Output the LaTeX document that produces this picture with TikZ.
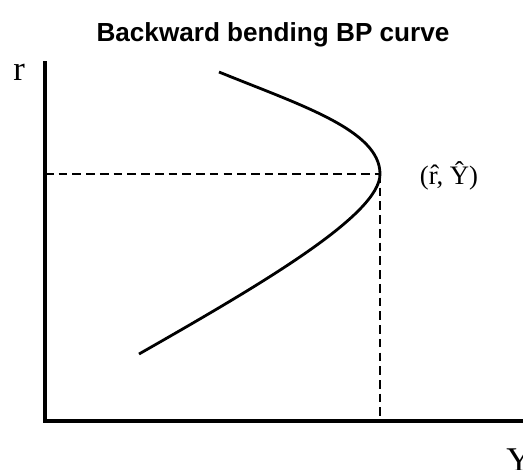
\documentclass[tikz,border=0pt]{standalone}
\usepackage{fontspec}
\setmainfont{Liberation Serif}
\newfontfamily\titlefont{Liberation Sans}
\begin{document}
\begin{tikzpicture}[x=0.75pt,y=-0.75pt,
  axisline/.style={line width=2.4pt},
  curveline/.style={line width=2.1pt},
  guide/.style={line width=2pt,dash pattern=on 6.5pt off 3.8pt},
  lbl/.style={inner sep=0pt}]
\useasboundingbox[fill=white] (0,0) rectangle (523,469);
\node[lbl,anchor=base] (title) at (273,41) {\titlefont\bfseries\fontsize{19.6pt}{22pt}\selectfont Backward bending BP curve};
\coordinate (otop) at (45,61);
\coordinate (o) at (45,421);
\coordinate (xend) at (523,421);
\coordinate (ctop) at (219,72);
\coordinate (v) at (380,174);
\coordinate (cbot) at (139,354);
\coordinate (hl) at (45,174);
\coordinate (vb) at (380,421);
\draw[axisline] (otop) -- (o) -- (xend);
\draw[guide] (hl) -- (v);
\draw[guide] (v) -- (vb);
\draw[curveline] (ctop) .. controls (300,105) and (380,130) .. (v)
  .. controls (380,215) and (260,285) .. (cbot);
\node[lbl,anchor=base west] (rlab) at (13,80) {\fontsize{26pt}{28pt}\selectfont r};
\node[lbl,anchor=base west] (ylab) at (506,471) {\fontsize{26pt}{28pt}\selectfont Y};
\node[lbl,anchor=base] (pt) at (449,184) {\fontsize{20pt}{22pt}\selectfont (\^{r}, \^{Y})};
\end{tikzpicture}
\end{document}
